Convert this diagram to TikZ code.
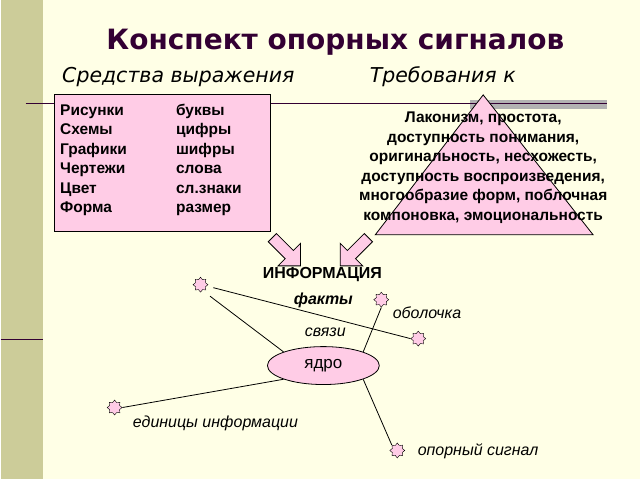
\documentclass[tikz,border=0pt]{standalone}
\usepackage{fontspec}
\setmainfont{Liberation Sans}
\newfontfamily\dejavu{DejaVu Sans}
\usetikzlibrary{shapes.geometric,shapes.arrows}
\definecolor{cream}{HTML}{FFFFE6}
\definecolor{khaki}{HTML}{CCCC99}
\definecolor{rosa}{HTML}{FFCCE6}
\definecolor{plum}{HTML}{330033}
\tikzset{
  dot/.style={draw, fill=rosa, star, star points=8, star point ratio=1.4, minimum size=15pt, inner sep=0pt},
  bigarrow/.style={draw, thick, fill=rosa, single arrow, minimum height=40pt, minimum width=32pt, single arrow head extend=6pt, inner sep=3pt},
  item/.style={font=\bfseries\fontsize{15.5}{18}\selectfont, anchor=base west},
  lbl/.style={font=\itshape\fontsize{16}{18}\selectfont}
}
\begin{document}
\begin{tikzpicture}[x=1pt,y=-1pt]
  \fill[cream] (0,0) rectangle (640,480);
  \fill[khaki] (0,0) rectangle (42,480);
  \draw[plum, line width=1.5pt] (0,340) -- (42,340);
  \fill[gray!60] (470,100) rectangle (607,109);
  \draw[plum, line width=1pt] (25,104) -- (607,104);

  \node[font=\dejavu\bfseries\fontsize{28}{32}\selectfont, text=plum] (title) at (335,42) {Конспект опорных сигналов};
  \node[font=\dejavu\itshape\fontsize{20.5}{24}\selectfont, anchor=west] (means) at (58,77) {Средства выражения};
  \node[font=\dejavu\itshape\fontsize{20.5}{24}\selectfont, anchor=west] (reqs) at (366,77) {Требования к};

  % box of means
  \node[draw, thick, fill=rosa, minimum width=216pt, minimum height=137pt] (means box) at (162,163.5) {};
  \foreach \a/\b [count=\i] in {Рисунки/буквы, Схемы/цифры, Графики/шифры, Чертежи/слова, Цвет/сл.знаки, Форма/размер}{
    \node[item] at (56,96+19.5*\i) {\a};
    \node[item] at (172,96+19.5*\i) {\b};
  }

  % triangle of requirements
  \draw[thick, fill=rosa] (483,95) -- (593,235) -- (375,235) -- cycle;
  \node[font=\bfseries\fontsize{15.5}{19.5}\selectfont, align=center] (req text) at (483,168)
    {Лаконизм, простота,\\ доступность понимания,\\ оригинальность, несхожесть,\\ доступность воспроизведения,\\ многообразие форм, поблочная\\ компоновка, эмоциональность};

  \node[bigarrow, rotate=-45] (arrow l) at (284,250) {};
  \node[bigarrow, rotate=-135] (arrow r) at (356,250) {};

  \node[font=\bfseries\fontsize{16}{18}\selectfont] (info) at (322,275) {ИНФОРМАЦИЯ};
  \node[font=\bfseries\itshape\fontsize{16}{18}\selectfont] (facts) at (323,301) {факты};

  % core and satellites
  \node[draw, thick, fill=rosa, ellipse, minimum width=112pt, minimum height=38pt, font=\fontsize{17}{19}\selectfont] (core) at (323,366) {ядро};
  \node[dot] (s1) at (200,285) {};
  \node[dot] (s2) at (381,300) {};
  \node[dot] (s3) at (418,339) {};
  \node[dot] (s4) at (114,408) {};
  \node[dot] (s5) at (397,451) {};

  \draw[thick] (s1.east) ++(5,3) coordinate (c1) (c1) -- (s3.west);
  \draw[thick] (s1.south east) ++(4,6) coordinate (c2) (c2) -- (core.north west);
  \draw[thick] (s2.south) -- (core.north east);
  \draw[thick] (s4.east) -- (core.south west);
  \draw[thick] (s5.north west) -- (core.south east);

  \node[lbl, anchor=west] (shell) at (389,313) {оболочка};
  \node[lbl] (links) at (325,333) {связи};
  \node[lbl] (units) at (215,424) {единицы информации};
  \node[lbl, anchor=west] (signal) at (414,452) {опорный сигнал};
\end{tikzpicture}
\end{document}
